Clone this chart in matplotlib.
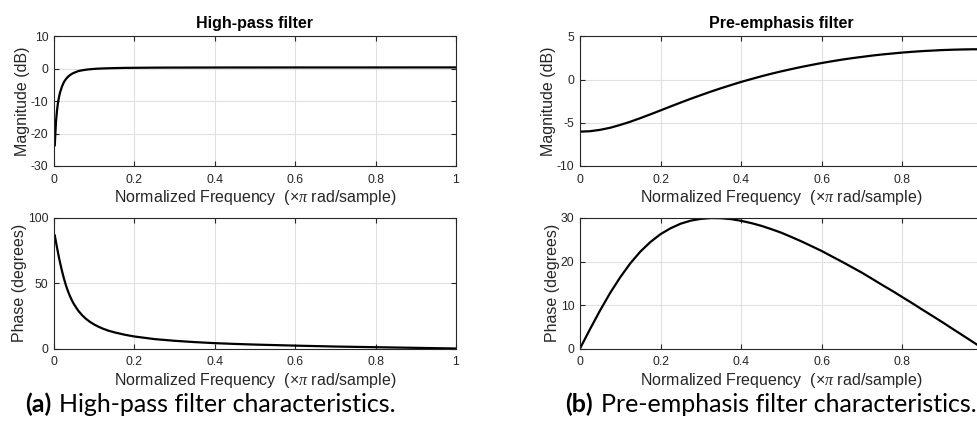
import matplotlib
matplotlib.use("Agg")
import matplotlib.pyplot as plt

# ---- data ----
hp_freq = [0.002, 0.0025, 0.005, 0.0075, 0.01, 0.0125, 0.015, 0.02, 0.025, 0.03,
           0.035, 0.04, 0.045, 0.05, 0.06, 0.07, 0.08, 0.09, 0.1, 0.11, 0.12,
           0.135, 0.15, 0.175, 0.2, 0.25, 0.3, 0.35, 0.4, 0.45, 0.5, 0.6, 0.7,
           0.8, 0.9, 1.0]
hp_mag_db = [-23.6, -22.1, -16.2, -12.8, -10.4, -8.7, -7.3, -5.4, -4.0, -3.1,
             -2.4, -1.9, -1.5, -1.2, -0.7, -0.44, -0.25, -0.11, 0.0, 0.07, 0.13,
             0.19, 0.24, 0.30, 0.33, 0.38, 0.40, 0.41, 0.42, 0.43, 0.43, 0.44, 0.44,
             0.44, 0.45, 0.45]
hp_phase_deg = [86.6, 85.7, 81.5, 77.4, 73.4, 69.5, 65.9, 59.2, 53.3, 48.1,
                43.7, 39.9, 36.6, 33.8, 29.1, 25.5, 22.6, 20.3, 18.4, 16.8, 15.4,
                13.7, 12.4, 10.6, 9.2, 7.2, 5.9, 4.9, 4.1, 3.5, 3.0, 2.2, 1.5,
                1.0, 0.5, 0.0]

pe_freq = [0.0, 0.025, 0.05, 0.075, 0.1, 0.125, 0.15, 0.175, 0.2, 0.225, 0.25,
           0.275, 0.3, 0.325, 0.35, 0.375, 0.4, 0.425, 0.45, 0.475, 0.5,
           0.525, 0.55, 0.575, 0.6, 0.625, 0.65, 0.675, 0.7, 0.725, 0.75,
           0.775, 0.8, 0.825, 0.85, 0.875, 0.9, 0.925, 0.95, 0.975, 1.0]
pe_mag_db = [-6.02, -5.97, -5.81, -5.57, -5.24, -4.87, -4.45, -4.01, -3.56, -3.10, -2.65,
             -2.21, -1.79, -1.38, -0.99, -0.62, -0.26, 0.07, 0.39, 0.69, 0.97,
             1.23, 1.48, 1.71, 1.93, 2.13, 2.32, 2.49, 2.64, 2.79, 2.92,
             3.03, 3.14, 3.23, 3.31, 3.37, 3.43, 3.47, 3.50, 3.52, 3.52]
pe_phase_deg = [0.0, 4.47, 8.78, 12.8, 16.4, 19.6, 22.3, 24.5, 26.3, 27.65, 28.7,
                29.4, 29.8, 29.99, 29.95, 29.74, 29.35, 28.83, 28.2, 27.43, 26.6,
                25.62, 24.6, 23.51, 22.4, 21.17, 19.95, 18.68, 17.4, 16.01, 14.6,
                13.24, 11.8, 10.38, 8.9, 7.46, 6.0, 4.49, 3.0, 1.5, 0.0]

titles = ["High-pass filter", "Pre-emphasis filter"]
captions = [("(a)", "High-pass filter characteristics."),
            ("(b)", "Pre-emphasis filter characteristics.")]
xticks = [0, 0.2, 0.4, 0.6, 0.8, 1]
xticklabels = ["0", "0.2", "0.4", "0.6", "0.8", "1"]
hp_mag_ticks = [-30, -20, -10, 0, 10]
hp_phase_ticks = [0, 50, 100]
pe_mag_ticks = [-10, -5, 0, 5]
pe_phase_ticks = [0, 10, 20, 30]

xlabel = r"Normalized Frequency  ($\times\pi$ rad/sample)"

plt.rcParams['font.family'] = ['Liberation Sans', 'DejaVu Sans']
plt.rcParams['mathtext.fontset'] = 'custom'
plt.rcParams['mathtext.rm'] = 'Liberation Sans'
plt.rcParams['mathtext.it'] = 'Liberation Serif:italic'
plt.rcParams['axes.unicode_minus'] = False

W, H = 977, 433
fig = plt.figure(figsize=(W / 100, H / 100), dpi=100)

def add_ax(x0, ytop, ybot, x1):
    return fig.add_axes([x0 / W, 1 - ybot / H, (x1 - x0) / W, (ybot - ytop) / H])

spine_c = (0.15, 0.15, 0.15)

def style(ax, yticks, ylim, ylabel, hide_last=False):
    ax.set_xlim(0, 1)
    ax.set_ylim(*ylim)
    ax.set_xticks(xticks)
    labs = list(xticklabels)
    if hide_last:
        labs[-1] = ""
    ax.set_xticklabels(labs)
    ax.set_yticks(yticks)
    ax.grid(True, color=(0.88, 0.88, 0.88), linewidth=0.8)
    ax.set_axisbelow(True)
    ax.tick_params(direction='in', length=3.5, width=0.8, colors=spine_c,
                   labelsize=8.8, top=True, right=True)
    ax.tick_params(axis='x', pad=5.5)
    ax.tick_params(axis='y', pad=4)
    for s in ax.spines.values():
        s.set_color(spine_c)
        s.set_linewidth(0.8)
    ax.set_xlabel(xlabel, fontsize=11.5, color=spine_c, labelpad=2)
    ax.set_ylabel(ylabel, fontsize=11.5, color=spine_c, labelpad=0.5)

lw = 1.6
# left column
ax1 = add_ax(54, 36.5, 166, 456)
ax1.plot(hp_freq, hp_mag_db, color='black', linewidth=lw)
style(ax1, hp_mag_ticks, (-30, 10), "Magnitude (dB)")
ax1.set_title(titles[0], fontsize=11.5, fontweight='bold', pad=6)

ax2 = add_ax(54, 218, 348.5, 456)
ax2.plot(hp_freq, hp_phase_deg, color='black', linewidth=lw)
style(ax2, hp_phase_ticks, (0, 100), "Phase (degrees)")

# right column (extends past the right edge, as in the reference)
ax3 = add_ax(580, 36.5, 166, 983)
ax3.plot(pe_freq, pe_mag_db, color='black', linewidth=lw)
style(ax3, pe_mag_ticks, (-10, 5), "Magnitude (dB)", hide_last=True)
ax3.set_title(titles[1], fontsize=11.5, fontweight='bold', pad=6)

ax4 = add_ax(580, 218, 348.5, 983)
ax4.plot(pe_freq, pe_phase_deg, color='black', linewidth=lw)
style(ax4, pe_phase_ticks, (0, 30), "Phase (degrees)", hide_last=True)

# captions
cap_font = ['Lato', 'DejaVu Sans']
def caption(x, y, lab, txt):
    t1 = fig.text(x / W, 1 - y / H, lab, fontsize=18, fontweight='bold',
                  family=cap_font, va='center', ha='left')
    fig.canvas.draw()
    bb = t1.get_window_extent()
    fig.text((bb.x1 + 8) / W, 1 - y / H, txt, fontsize=18, family=cap_font,
             va='center', ha='left')

caption(25, 404, *captions[0])
caption(565, 404, *captions[1])

fig.savefig("out.png", dpi=100)
